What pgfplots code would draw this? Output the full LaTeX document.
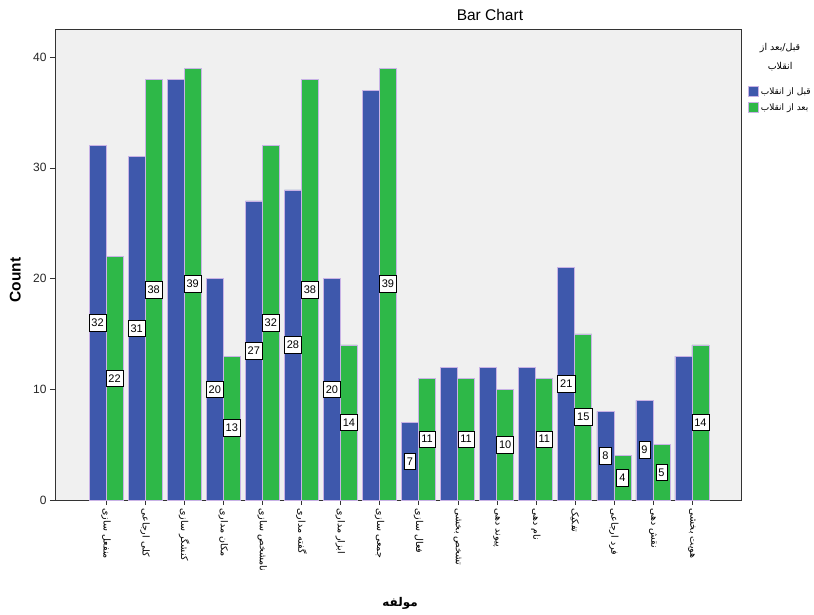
\documentclass[border=0pt]{standalone}
\usepackage{pgfplots}
\pgfplotsset{compat=1.18}
\usepackage{pgfplotstable}
\usepackage{fontspec}
\setmainfont{Liberation Sans}
\newfontfamily\fa[Script=Arabic]{DejaVu Sans}
\TeXXeTstate=1

\definecolor{spssblue}{HTML}{3E58AC}
\definecolor{spssgreen}{HTML}{2EB848}
\definecolor{barline}{HTML}{C9B3E6}
\definecolor{plotbg}{HTML}{F0F0F0}

% before (blue): bars that carry a label / bars without one
\pgfplotstableread{
x y
0 32
1 31
3 20
4 27
5 28
6 20
8 7
12 21
13 8
14 9
}\beforeLab
\pgfplotstableread{
x y
2 38
7 37
9 12
10 12
11 12
15 13
}\beforeNoLab
% after (green)
\pgfplotstableread{
x y
0 22
1 38
2 39
3 13
4 32
5 38
6 14
7 39
8 11
9 11
10 10
11 11
12 15
13 4
14 5
15 14
}\after

\begin{document}
\begin{tikzpicture}
\path[use as bounding box] (0,0) rectangle (814pt,614pt);
\begin{axis}[
  at={(55pt,114pt)}, anchor=south west,
  scale only axis, width=686pt, height=471pt,
  xmin=-1.308, xmax=16.256, ymin=0, ymax=42.53,
  clip=false,
  axis background/.style={fill=plotbg},
  axis line style={draw=black!80},
  ybar, bar width=0.435,
  xtick={0,...,15},
  xticklabels={\beginR منفعل سازی\endR,\beginR کلی ارجاعی\endR,\beginR کنشگر سازی\endR,
    \beginR مکان مداری\endR,\beginR نامشخص سازی\endR,\beginR گفته مداری\endR,
    \beginR ابزار مداری\endR,\beginR جمعی سازی\endR,\beginR فعال سازی\endR,
    \beginR تشخص بخشی\endR,\beginR پیوند دهی\endR,\beginR نام دهی\endR,
    \beginR تفکیک\endR,\beginR فرد ارجاعی\endR,\beginR نقش دهی\endR,
    \beginR هویت بخشی\endR},
  x tick label style={rotate=-90, anchor=west, font=\fa\fontsize{9.5}{10}\selectfont},
  ytick={0,10,...,40},
  y tick label style={font=\fontsize{12}{13}\selectfont, text=black!85},
  /pgf/number format/assume math mode=true,
  tick align=outside, tick pos=left,
  major tick length=5pt,
  tick style={draw=black!80},
  title={Bar Chart},
  title style={at={(axis description cs:0.634,1.016)}, anchor=center, font=\fontsize{15.5}{17}\selectfont},
  xlabel={\beginR مولفه\endR},
  xlabel style={at={(axis description cs:0.503,-0.219)}, anchor=center, font=\fa\bfseries\fontsize{12}{14}\selectfont},
  ylabel={Count},
  ylabel style={at={(axis description cs:-0.058,0.467)}, anchor=center, font=\bfseries\fontsize{15.5}{17}\selectfont},
  legend style={draw=none, fill=none, at={(1.0058,0.885)}, anchor=north west,
    font=\fa\fontsize{9}{10}\selectfont, row sep=4pt},
  legend cell align=left,
  legend image code/.code={\draw[#1] (0pt,-4.5pt) rectangle (10pt,5.5pt);},
  visualization depends on={y \as \rawy},
  every node near coord/.append style={anchor=center, shift={(axis direction cs:0,-\rawy/2)},
    draw=black, fill=white, line width=0.6pt, inner xsep=2.5pt, inner ysep=4.5pt,
    font=\fontsize{11}{12}\selectfont},
]
\addplot[fill=spssblue, draw=barline, line width=0.6pt, bar shift=-0.2175,
  nodes near coords] table[x=x, y=y] {\beforeLab};
\addlegendentry{\beginR قبل از انقلاب\endR}
\addplot[fill=spssgreen, draw=barline, line width=0.6pt, bar shift=0.2175,
  nodes near coords] table[x=x, y=y] {\after};
\addlegendentry{\beginR بعد از انقلاب\endR}
\addplot[fill=spssblue, draw=barline, line width=0.6pt, bar shift=-0.2175,
  forget plot] table[x=x, y=y] {\beforeNoLab};
\node[align=center, font=\fa\fontsize{9.5}{19}\selectfont] at (rel axis cs:1.057,0.94)
  {\beginR قبل/بعد از\endR\\\beginR انقلاب\endR};
\end{axis}
\end{tikzpicture}
\end{document}
